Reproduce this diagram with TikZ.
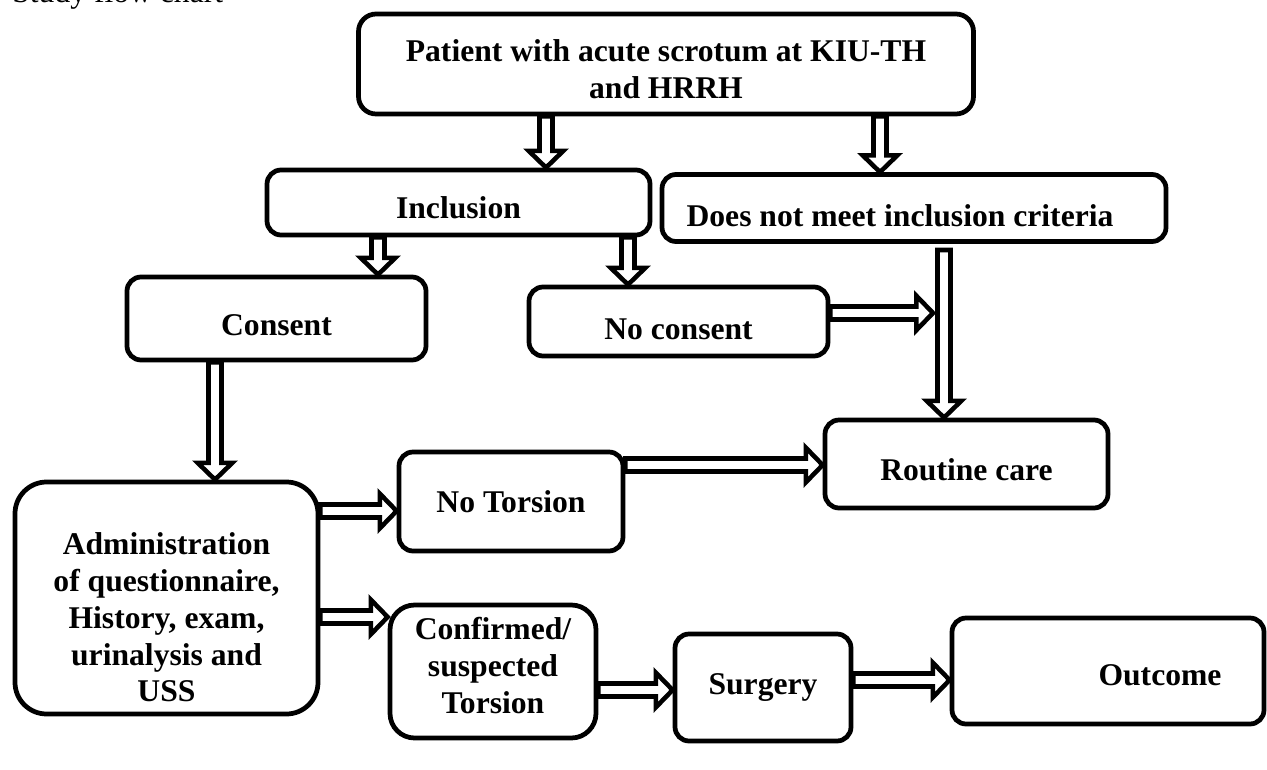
\documentclass[tikz,border=0pt]{standalone}
\usepackage{fontspec}
\setmainfont{Liberation Serif}
\usetikzlibrary{calc}

\def\px{0.02cm}
\def\sw{3.7pt}
\def\hw{9.8pt}
\def\hl{9.5pt}

\tikzset{
  flowbox/.style={draw, line width=2.7pt, rounded corners=8pt, align=center,
    font=\bfseries\fontsize{18}{21}\selectfont, inner sep=2pt},
  blockarrow/.style={draw, fill=white, line width=2.6pt, line join=miter},
  drop/.style={execute at begin node={\rule{0pt}{#1}}},
}

% hollow block arrows: x (or y) in px, start point, end point
\newcommand{\arrdown}[3]{%
  \draw[blockarrow] let \p1=(#1,0), \p2=#2, \p3=#3 in
    (\x1-\sw,\y2) -- (\x1-\sw,\y3+\hl) -- (\x1-\hw,\y3+\hl) -- (\x1,\y3)
    -- (\x1+\hw,\y3+\hl) -- (\x1+\sw,\y3+\hl) -- (\x1+\sw,\y2) -- cycle;}
\newcommand{\arrright}[3]{%
  \draw[blockarrow] let \p1=(0,#1), \p2=#2, \p3=#3 in
    (\x2,\y1+\sw) -- (\x3-\hl,\y1+\sw) -- (\x3-\hl,\y1+\hw) -- (\x3,\y1)
    -- (\x3-\hl,\y1-\hw) -- (\x3-\hl,\y1-\sw) -- (\x2,\y1-\sw) -- cycle;}

\begin{document}
\begin{tikzpicture}[x=0.02cm, y=-0.02cm]
  \useasboundingbox (0,0) rectangle (1267,770);

  \node[anchor=base west, inner sep=0, font=\fontsize{18}{21}\selectfont] (title)
    at (12,3) {Study flow chart};

  \node[flowbox, minimum width=615*\px, minimum height=100*\px, rounded corners=10pt]
    (patient) at (666,64) {\rule{0pt}{18.6pt}Patient with acute scrotum at KIU-TH\\and HRRH};
  \node[flowbox, minimum width=383*\px, minimum height=65*\px, drop=17.9pt] (incl) at (458.5,202.5) {Inclusion};
  \node[flowbox, minimum width=504*\px, minimum height=67*\px, drop=21pt] (exclude) at (914,208)
    {Does not meet inclusion criteria\hspace*{0.56cm}};
  \node[flowbox, minimum width=299*\px, minimum height=83*\px, drop=20pt] (consent) at (276.5,318.5) {Consent};
  \node[flowbox, minimum width=299*\px, minimum height=69*\px, drop=20.5pt] (nocons) at (678.5,321.5) {No consent};
  \node[flowbox, minimum width=283*\px, minimum height=88*\px, drop=19.5pt] (routine) at (966.5,464) {Routine care};
  \node[flowbox, minimum width=303*\px, minimum height=232*\px, rounded corners=18pt]
    (admin) at (166.5,598)
    {\rule{0pt}{34.5pt}Administration\\of questionnaire,\\History, exam,\\urinalysis and\\USS};
  \node[flowbox, minimum width=224*\px, minimum height=99*\px] (notors) at (511,501.5) {No Torsion};
  \node[flowbox, minimum width=206*\px, minimum height=133*\px, rounded corners=14pt]
    (confirm) at (493,671.5) {Confirmed/\\suspected\\Torsion\rule[-6.8pt]{0pt}{0pt}};
  \node[flowbox, minimum width=176*\px, minimum height=107*\px] (surgery) at (763,687.5) {Surgery};
  \node[flowbox, minimum width=312*\px, minimum height=106*\px, drop=16.8pt] (outcome) at (1108,671)
    {\hspace*{2.08cm}Outcome};

  \coordinate (joint) at (944,250);
  \coordinate (merge) at (933,313);

  \foreach \ax/\from/\to in {546/patient.south/incl.north, 880/patient.south/exclude.north,
    378/incl.south/consent.north, 628/incl.south/nocons.north,
    215/consent.south/admin.north, 944/joint/routine.north} {
    \arrdown{\ax}{(\from)}{(\to)}
  }
  \foreach \ay/\from/\to in {313/nocons.east/merge, 511/admin.east/notors.west,
    465/notors.east/routine.west, 617/admin.east/confirm.west,
    690/confirm.east/surgery.west, 680/surgery.east/outcome.west} {
    \arrright{\ay}{(\from)}{(\to)}
  }

\end{tikzpicture}
\end{document}
